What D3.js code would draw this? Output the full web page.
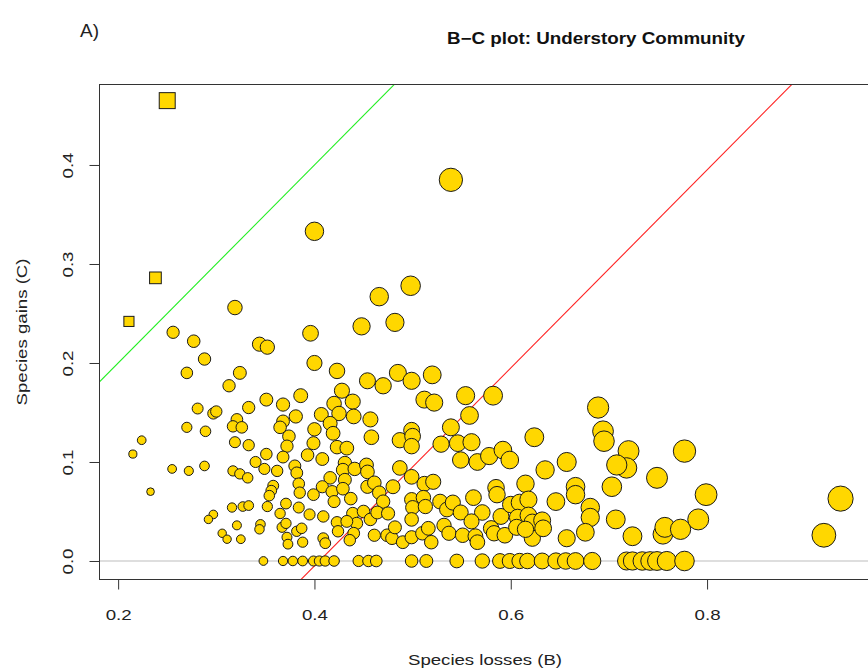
<!DOCTYPE html>
<html>
<head>
<meta charset="utf-8">
<script src="https://cdn.jsdelivr.net/npm/d3@7"></script>
<style>
  html, body { margin: 0; padding: 0; background: #fff; }
  svg { display: block; font-family: "Liberation Sans", Arial, Helvetica, sans-serif; }
</style>
</head>
<body>
<svg id="chart" width="868" height="671"></svg>
<script>
// Species losses (B) and gains (C) per plot; circles lie below the B = C line
const lossesB = [
  0.539,0.400,0.498,0.466,0.319,0.482,0.448,0.256,0.396,0.277,
  0.344,0.352,0.400,0.288,0.423,0.324,0.270,0.313,0.351,0.368,
  0.386,0.333,0.281,0.297,0.300,0.321,0.317,0.326,0.368,0.365,
  0.381,0.374,0.270,0.289,0.224,0.319,0.333,0.372,0.215,0.255,
  0.272,0.288,0.233,0.351,0.368,0.340,0.349,0.362,0.317,0.324,
  0.332,0.380,0.382,0.358,0.356,0.354,0.384,0.385,0.352,0.327,
  0.333,0.316,0.371,0.365,0.384,0.297,0.292,0.321,0.345,0.344,
  0.367,0.371,0.382,0.306,0.311,0.325,0.372,0.373,0.387,0.388,
  0.454,0.470,0.485,0.499,0.520,0.512,0.522,0.428,0.420,0.439,
  0.425,0.440,0.457,0.407,0.416,0.400,0.419,0.399,0.423,0.433,
  0.458,0.487,0.499,0.500,0.499,0.529,0.539,0.393,0.408,0.431,
  0.429,0.441,0.453,0.454,0.416,0.431,0.408,0.418,0.420,0.399,
  0.429,0.437,0.454,0.461,0.466,0.470,0.480,0.487,0.499,0.512,
  0.521,0.499,0.500,0.499,0.511,0.513,0.528,0.535,0.395,0.409,
  0.423,0.424,0.439,0.443,0.440,0.450,0.457,0.464,0.475,0.409,
  0.411,0.436,0.461,0.474,0.479,0.482,0.490,0.499,0.510,0.516,
  0.519,0.532,0.537,0.433,
  0.554,0.582,0.558,0.546,0.560,0.624,0.689,0.694,0.695,0.549,
  0.566,0.578,0.592,0.599,0.657,0.635,0.666,0.666,0.585,0.586,
  0.615,0.646,0.681,0.681,0.541,0.549,0.562,0.571,0.560,0.551,
  0.564,0.566,0.590,0.580,0.583,0.594,0.600,0.609,0.618,0.607,
  0.606,0.618,0.622,0.622,0.632,0.633,0.615,0.657,0.676,
  0.720,0.718,0.708,0.777,0.703,0.749,0.799,0.707,0.724,0.755,
  0.757,0.773,0.791,0.936,0.919,
  // plots with no gains
  0.348,0.368,0.378,0.388,0.399,0.405,0.411,0.420,0.445,0.455,
  0.463,0.499,0.514,0.545,0.571,0.589,0.599,0.609,0.617,0.632,
  0.646,0.656,0.666,0.683,0.718,0.724,0.734,0.742,0.749,0.759,
  0.777
];
const gainsC = [
  0.385,0.333,0.278,0.267,0.256,0.241,0.237,0.231,0.230,0.222,
  0.219,0.216,0.200,0.204,0.192,0.190,0.190,0.177,0.163,0.158,
  0.167,0.155,0.154,0.149,0.151,0.143,0.136,0.135,0.141,0.135,
  0.146,0.126,0.135,0.131,0.122,0.120,0.117,0.116,0.108,0.093,
  0.091,0.096,0.070,0.108,0.105,0.100,0.093,0.091,0.091,0.088,
  0.084,0.096,0.089,0.076,0.071,0.066,0.078,0.069,0.055,0.055,
  0.056,0.054,0.058,0.048,0.054,0.047,0.042,0.036,0.037,0.032,
  0.034,0.038,0.030,0.028,0.022,0.022,0.024,0.017,0.033,0.019,
  0.182,0.177,0.190,0.182,0.188,0.163,0.160,0.172,0.159,0.161,
  0.149,0.146,0.143,0.148,0.139,0.133,0.129,0.119,0.115,0.114,
  0.125,0.122,0.132,0.126,0.116,0.118,0.135,0.107,0.103,0.099,
  0.092,0.093,0.097,0.090,0.084,0.082,0.075,0.070,0.060,0.067,
  0.073,0.063,0.075,0.079,0.069,0.060,0.075,0.094,0.085,0.078,
  0.080,0.062,0.054,0.042,0.064,0.055,0.060,0.052,0.047,0.045,
  0.039,0.030,0.048,0.038,0.028,0.050,0.042,0.049,0.048,0.023,
  0.018,0.021,0.026,0.026,0.023,0.034,0.019,0.024,0.028,0.033,
  0.019,0.036,0.028,0.040,
  0.167,0.167,0.147,0.119,0.120,0.125,0.155,0.131,0.121,0.102,
  0.100,0.106,0.112,0.102,0.100,0.092,0.075,0.067,0.074,0.067,
  0.078,0.060,0.054,0.044,0.059,0.049,0.064,0.049,0.040,0.026,
  0.025,0.019,0.045,0.033,0.028,0.026,0.057,0.059,0.062,0.044,
  0.034,0.046,0.039,0.023,0.041,0.033,0.032,0.023,0.029,
  0.111,0.094,0.097,0.111,0.075,0.084,0.067,0.042,0.025,0.027,
  0.034,0.032,0.042,0.063,0.026,
  0,0,0,0,0,0,0,0,0,0,
  0,0,0,0,0,0,0,0,0,0,
  0,0,0,0,0,0,0,0,0,0,
  0
];
// Plots where gains exceed losses (drawn as squares)
const sqLossesB = [0.211, 0.238, 0.250];
const sqGainsC  = [0.242, 0.286, 0.465];

const xTicks = [0.2, 0.4, 0.6, 0.8];
const yTicks = [0.0, 0.1, 0.2, 0.3, 0.4];
const xLim = [0.1805, 0.966];
const yLim = [-0.0192, 0.4818];
const redIntercept = -0.405;   // C = B - 0.405
const greenIntercept = 0;      // C = B

const titleText = "B\u2212C plot: Understory Community";
const panelLabel = "A)";
const xLabel = "Species losses (B)";
const yLabel = "Species gains (C)";

const svg = d3.select("#chart");
const plot = { left: 99, right: 870, top: 84, bottom: 580 };

const x = d3.scaleLinear().domain(xLim).range([plot.left, plot.right]);
const y = d3.scaleLinear().domain(yLim).range([plot.bottom, plot.top]);
const r = d3.scaleLinear().domain([0, 1]).range([0, 12.6]);

svg.append("defs").append("clipPath").attr("id", "plotClip")
  .append("rect")
  .attr("x", plot.left).attr("y", plot.top)
  .attr("width", plot.right - plot.left).attr("height", plot.bottom - plot.top);

// Reference lines
const refs = svg.append("g").attr("clip-path", "url(#plotClip)");
refs.append("line")
  .attr("x1", x(xLim[0])).attr("x2", x(xLim[1]))
  .attr("y1", y(0)).attr("y2", y(0))
  .attr("stroke", "#bebebe").attr("stroke-width", 1.2);

function abline(intercept, color) {
  refs.append("line")
    .attr("x1", x(xLim[0])).attr("y1", y(xLim[0] + intercept))
    .attr("x2", x(xLim[1])).attr("y2", y(xLim[1] + intercept))
    .attr("stroke", color).attr("stroke-width", 1.1);
}
abline(greenIntercept, "#22ee22");
abline(redIntercept, "#ff2020");

// Points
const circles = lossesB.map((b, i) => ({ b, c: gainsC[i] }));
const squares = sqLossesB.map((b, i) => ({ b, c: sqGainsC[i] }));
const pts = svg.append("g").attr("clip-path", "url(#plotClip)");
pts.selectAll("circle").data(circles).join("circle")
  .attr("cx", d => x(d.b)).attr("cy", d => y(d.c))
  .attr("r", d => r(d.b + d.c))
  .attr("fill", "#ffd700").attr("stroke", "#1a1a1a").attr("stroke-width", 1);
pts.selectAll("rect").data(squares).join("rect")
  .each(function (d) {
    const h = r(d.b + d.c) * 0.886;
    d3.select(this)
      .attr("x", x(d.b) - h).attr("y", y(d.c) - h)
      .attr("width", 2 * h).attr("height", 2 * h);
  })
  .attr("fill", "#ffd700").attr("stroke", "#1a1a1a").attr("stroke-width", 1);

// Box
svg.append("rect")
  .attr("x", plot.left + 0.5).attr("y", plot.top + 0.5)
  .attr("width", plot.right - plot.left).attr("height", plot.bottom - plot.top - 1)
  .attr("fill", "none").attr("stroke", "#333").attr("stroke-width", 1);

// Axes
const tickFont = 15;
const tickLabelLen = 26;
const xAxis = svg.append("g")
  .attr("transform", `translate(0,${plot.bottom - 0.5})`)
  .call(d3.axisBottom(x).tickValues(xTicks).tickSize(10).tickPadding(20)
    .tickFormat(d3.format(".1f")).tickSizeOuter(0));
xAxis.select(".domain").attr("d", `M${x(xTicks[0])},0H${x(xTicks[xTicks.length - 1])}`)
  .attr("stroke", "#333");
xAxis.selectAll(".tick line").attr("stroke", "#333");
xAxis.selectAll("text").attr("font-size", tickFont).attr("fill", "#222")
  .attr("font-family", "Liberation Sans, Arial, sans-serif")
  .attr("textLength", tickLabelLen).attr("lengthAdjust", "spacingAndGlyphs");

const yAxis = svg.append("g")
  .attr("transform", `translate(${plot.left + 0.5},0)`)
  .call(d3.axisLeft(y).tickValues(yTicks).tickSize(10)
    .tickFormat(d3.format(".1f")).tickSizeOuter(0));
yAxis.select(".domain").attr("d", `M0,${y(yTicks[0])}V${y(yTicks[yTicks.length - 1])}`)
  .attr("stroke", "#333");
yAxis.selectAll(".tick line").attr("stroke", "#333");
yAxis.selectAll("text")
  .attr("x", null).attr("dy", null)
  .attr("text-anchor", "middle")
  .attr("transform", "translate(-27,0) rotate(-90)")
  .attr("font-size", tickFont).attr("fill", "#222")
  .attr("font-family", "Liberation Sans, Arial, sans-serif")
  .attr("textLength", tickLabelLen).attr("lengthAdjust", "spacingAndGlyphs");

// Labels
svg.append("text").attr("x", 485).attr("y", 665)
  .attr("text-anchor", "middle").attr("font-size", 15.5).attr("fill", "#222")
  .attr("textLength", 154).attr("lengthAdjust", "spacingAndGlyphs")
  .text(xLabel);
svg.append("text")
  .attr("transform", `translate(27,${(plot.top + plot.bottom) / 2}) rotate(-90)`)
  .attr("text-anchor", "middle").attr("font-size", 15.5).attr("fill", "#222")
  .attr("textLength", 147).attr("lengthAdjust", "spacingAndGlyphs")
  .text(yLabel);
svg.append("text").attr("x", 596).attr("y", 44)
  .attr("text-anchor", "middle").attr("font-size", 16).attr("font-weight", "bold")
  .attr("fill", "#111")
  .attr("textLength", 298).attr("lengthAdjust", "spacingAndGlyphs")
  .text(titleText);
svg.append("text").attr("x", 80).attr("y", 37)
  .attr("font-size", 19).attr("fill", "#222").text(panelLabel);
</script>
</body>
</html>
